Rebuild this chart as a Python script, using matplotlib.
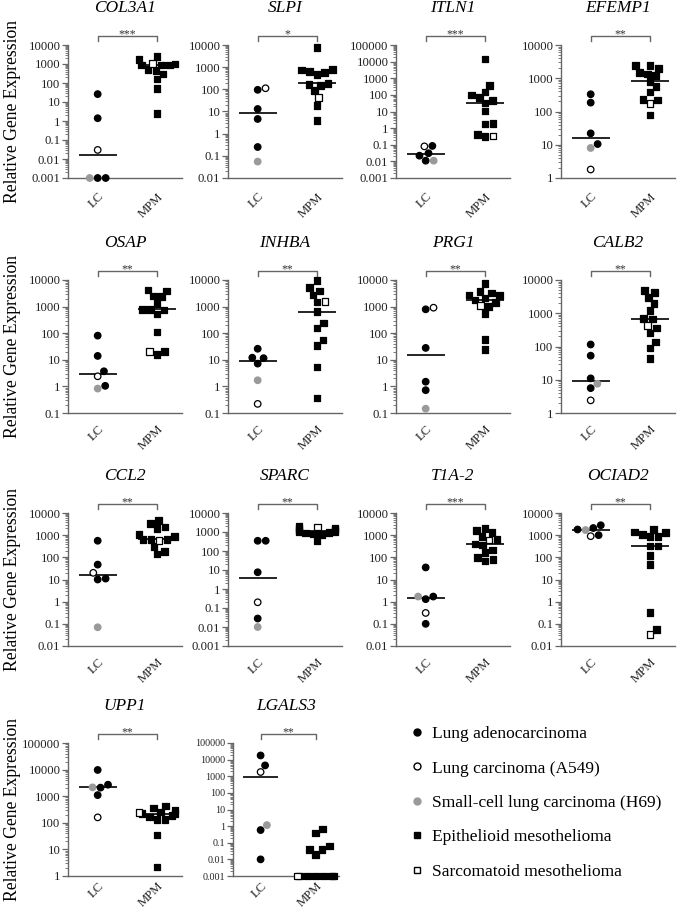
import numpy as np
import matplotlib
matplotlib.use("Agg")
import matplotlib.pyplot as plt
from matplotlib.lines import Line2D
from matplotlib.ticker import LogLocator, FuncFormatter, NullFormatter
import matplotlib.transforms as mtransforms

plt.rcParams['font.family'] = ['Liberation Serif', 'DejaVu Serif']

# ---- data ----
genes = ["COL3A1", "SLPI", "ITLN1", "EFEMP1", "OSAP", "INHBA", "PRG1",
         "CALB2", "CCL2", "SPARC", "T1A-2", "OCIAD2", "UPP1", "LGALS3"]
stars = ["***", "*", "***", "**", "**", "**", "**",
         "**", "**", "**", "***", "**", "**", "**"]
y_lo = [1e-3, 1e-2, 1e-3, 1, 0.1, 0.1, 0.1, 1, 1e-2, 1e-3, 1e-2, 1e-2, 1, 1e-3]
y_hi = [1e4, 1e4, 1e5, 1e4, 1e4, 1e4, 1e4, 1e4, 1e4, 1e4, 1e4, 1e4, 1e5, 1e5]

# LC group
adeno = [[26, 1.4, 0.001, 0.001],
         [95, 13, 4.6, 0.25],
         [0.085, 0.031, 0.022, 0.011],
         [330, 185, 22, 10.5],
         [81, 14, 3.7, 1.05],
         [26, 12, 11.5, 7.2],
         [790, 28, 1.5, 0.72],
         [115, 53, 11, 5.6],
         [560, 47, 11, 10],
         [345, 345, 7.6, 0.028],
         [35, 1.7, 1.3, 0.1],
         [2800, 2100, 1800, 1000],
         [9700, 2700, 2100, 1100],
         [17800, 4500, 0.58, 0.01]]
a549 = [0.03, 112, 0.08, 1.8, 2.4, 0.22, 910, 2.4, 20, 0.2, 0.31, 900, 160, 1800]
h69 = [0.001, 0.055, 0.011, 8, 0.83, 1.7, 0.145, 7.6, 0.07, 0.01, 1.7, 1700, 2150, 1.15]

# MPM group
epith = [[2500, 1700, 1000, 900, 900, 900, 500, 450, 300, 160, 52, 2.4],
         [7900, 790, 740, 630, 590, 480, 185, 160, 150, 87, 19, 3.8],
         [14500, 370, 150, 100, 70, 48, 33, 10.5, 1.9, 1.75, 0.43, 0.31],
         [2400, 2400, 2000, 1500, 1350, 1200, 800, 560, 390, 230, 220, 78],
         [4200, 3900, 2500, 2350, 1300, 780, 780, 740, 520, 112, 21, 16],
         [9400, 5100, 3900, 2700, 1500, 650, 245, 158, 55, 35, 5.4, 0.37],
         [7400, 3600, 3200, 2700, 2600, 2100, 1750, 1400, 1000, 540, 58, 24],
         [4800, 4250, 3000, 2000, 1230, 690, 670, 360, 255, 137, 91, 44],
         [4500, 3300, 2350, 2000, 1100, 900, 650, 650, 650, 300, 180, 140],
         [2000, 1600, 1500, 1400, 1200, 1100, 1000, 950, 900, 800, 750, 330],
         [2000, 1600, 1300, 900, 650, 400, 355, 215, 160, 98, 82, 69],
         [1800, 1400, 1300, 1100, 900, 850, 325, 325, 125, 49, 0.33, 0.056],
         [430, 360, 300, 255, 220, 220, 190, 165, 135, 135, 35, 2.2],
         [0.66, 0.38, 0.065, 0.041, 0.041, 0.02, 0.001, 0.001, 0.001, 0.001, 0.001, 0.001]]
sarco = [1100, 43, 0.33, 175, 21, 1600, 1070, 430, 560, 1850, 600, 0.033, 240, 0.001]

groups = ["LC", "MPM"]
legend_labels = ["Lung adenocarcinoma", "Lung carcinoma (A549)",
                 "Small-cell lung carcinoma (H69)", "Epithelioid mesothelioma",
                 "Sarcomatoid mesothelioma"]

# ---- layout (pixels of a 678x911 canvas) ----
W, H = 678, 911
col_left = [68, 228, 396, 561]
row_top = [45, 280, 513, 743]
row_xpad = [9, 7, 7, 3]
ax_w, ax_h = 114, 133
AX = '#666666'
GRAY = '#9a9a9a'


def swarm(ax, x0, vals, diam=8.0, max_dx=18):
    """beeswarm offsets in display space, returned in data units"""
    vals = np.asarray(vals, float)
    pts = ax.transData.transform(np.column_stack([np.full(len(vals), x0), vals]))
    ys = pts[:, 1]
    unit = ax.transData.transform((1, 1))[0] - ax.transData.transform((0, 1))[0]
    xs = np.zeros(len(vals))
    placed = []
    for i in np.argsort(ys, kind='stable'):
        y = ys[i]
        cands = [0.0]
        for px, py in placed:
            dy = y - py
            if abs(dy) < diam:
                dx = np.sqrt(diam ** 2 - dy ** 2)
                cands += [px + dx, px - dx]
        cands.sort(key=abs)
        pos = cands[-1]
        for c in cands:
            if all((c - px) ** 2 + (y - py) ** 2 >= diam ** 2 - 1e-6 for px, py in placed):
                pos = c
                break
        pos = float(np.clip(pos, -max_dx, max_dx))
        xs[i] = pos
        placed.append((pos, y))
    return x0 + xs / unit


fig = plt.figure(figsize=(W / 100, H / 100), dpi=100)

for k, gene in enumerate(genes):
    r, c = divmod(k, 4)
    left, width = col_left[c], ax_w
    if gene == "LGALS3":
        left, width = 233, 106
    ax = fig.add_axes([left / W, 1 - (row_top[r] + ax_h) / H, width / W, ax_h / H])
    ax.set_yscale('log')
    ax.set_ylim(y_lo[k], y_hi[k])
    ax.set_xlim(-0.5, 1.42)

    lc_vals = adeno[k] + [a549[k], h69[k]]
    lc_face = ['black'] * 4 + ['white', GRAY]
    lc_edge = ['black'] * 4 + ['black', GRAY]
    mpm_vals = epith[k] + [sarco[k]]
    mpm_face = ['black'] * 12 + ['white']

    for x0, vals in [(0, lc_vals), (1, mpm_vals)]:
        ax.hlines(np.median(vals), x0 - 0.32, x0 + 0.32, color='black', lw=1.2, zorder=2)

    xs = swarm(ax, 0, lc_vals)
    ax.scatter(xs, lc_vals, s=22, marker='o', facecolors=lc_face, edgecolors=lc_edge,
               linewidths=0.9, zorder=3, clip_on=False)
    xs = swarm(ax, 1, mpm_vals)
    ax.scatter(xs, mpm_vals, s=23, marker='s', facecolors=mpm_face, edgecolors='black',
               linewidths=0.9, zorder=3, clip_on=False)

    for side in ['top', 'right']:
        ax.spines[side].set_visible(False)
    for side in ['left', 'bottom']:
        ax.spines[side].set_color(AX)
        ax.spines[side].set_linewidth(1.0)

    fs = 7.2 if gene == "LGALS3" else 9.2
    ax.yaxis.set_major_locator(LogLocator(base=10, numticks=20))
    ax.yaxis.set_minor_locator(LogLocator(base=10, subs=np.arange(2, 10), numticks=20))
    ax.yaxis.set_major_formatter(FuncFormatter(lambda v, p: f'{v:g}'))
    ax.yaxis.set_minor_formatter(NullFormatter())
    ax.tick_params(axis='y', which='major', length=4, width=0.9, color=AX,
                   labelsize=fs, labelcolor='#222222', pad=1.5)
    ax.tick_params(axis='y', which='minor', length=2, width=0.6, color=AX)
    ax.set_xticks([0, 1])
    ax.set_xticklabels(groups, rotation=45, ha='right', va='top',
                       rotation_mode='anchor', fontsize=9.2, color='#222222')
    ax.tick_params(axis='x', length=0, pad=row_xpad[r])

    # title + significance bracket
    trans = mtransforms.blended_transform_factory(ax.transData, ax.transAxes)
    ax.text(0.5, 1 + 37 / ax_h, gene, transform=ax.transAxes, ha='center', va='center',
            fontsize=12.5, style='italic')
    yb = 1 + 9 / ax_h
    ax.plot([0, 0, 1, 1], [yb - 5 / ax_h, yb, yb, yb - 5 / ax_h], color=AX, lw=1.0,
            transform=trans, clip_on=False)
    ax.text(0.5, yb + 2 / ax_h, stars[k], transform=trans, ha='center', va='center',
            fontsize=8.5, color='#333333')

    if c == 0:
        ax.set_ylabel('Relative Gene Expression', fontsize=12.7)
        ax.yaxis.set_label_coords((21 - left) / width, 0.5)

handles = [
    Line2D([], [], ls='none', marker='o', ms=5, mfc='black', mec='black'),
    Line2D([], [], ls='none', marker='o', ms=5, mfc='white', mec='black', mew=1.0),
    Line2D([], [], ls='none', marker='o', ms=5, mfc=GRAY, mec=GRAY),
    Line2D([], [], ls='none', marker='s', ms=5, mfc='black', mec='black'),
    Line2D([], [], ls='none', marker='s', ms=5, mfc='white', mec='black', mew=1.0),
]
fig.legend(handles, legend_labels, loc='upper left', bbox_to_anchor=(410 / W, 1 - 726 / H),
           frameon=False, fontsize=12.5, handlelength=0.8, handletextpad=0.45,
           labelspacing=1.05, borderpad=0, borderaxespad=0)

fig.savefig('out.png', dpi=100)
